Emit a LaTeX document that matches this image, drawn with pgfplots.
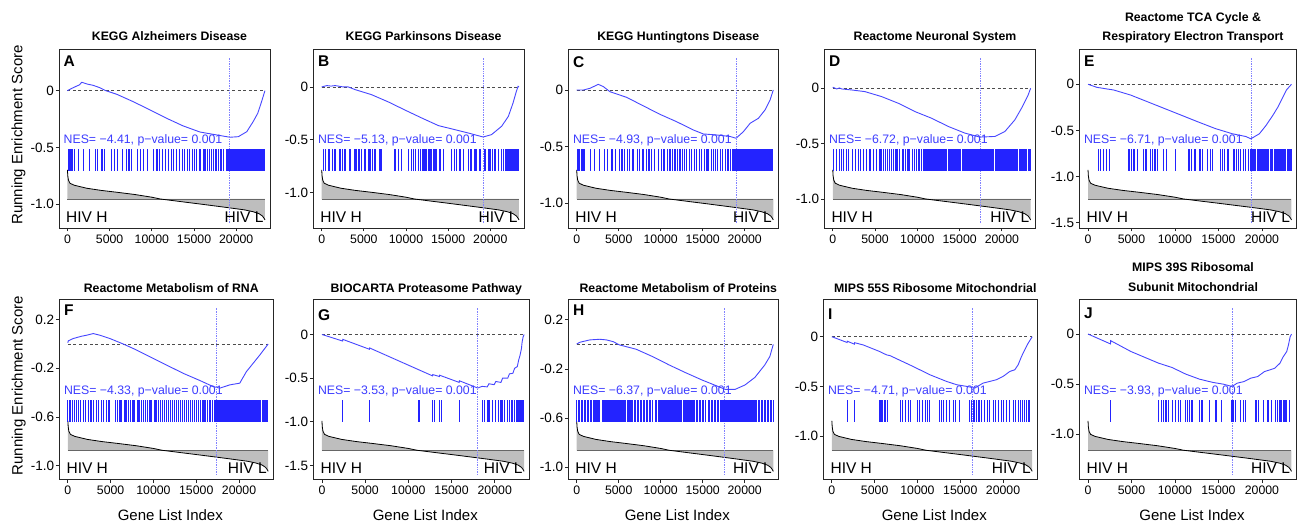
\documentclass[border=0pt]{standalone}
\usepackage{pgfplots}
\pgfplotsset{compat=1.18}
\usepackage{pgfplotstable}
\usepackage{fontspec}
\setmainfont{Liberation Sans}
\definecolor{esblue}{RGB}{70,70,255}
\definecolor{hitblue}{RGB}{35,35,255}
\definecolor{nesblue}{RGB}{60,60,255}
\definecolor{leblue}{RGB}{130,130,255}
\definecolor{mgrey}{RGB}{190,190,190}
\newcommand{\titlefont}{\fontsize{12.3}{14}\selectfont\bfseries}
\newcommand{\nesfont}{\fontsize{12.3}{14}\selectfont}
\newcommand{\hivfont}{\fontsize{15.5}{17}\selectfont}
\newcommand{\letterfont}{\fontsize{15.5}{17}\selectfont\bfseries}
\newcommand{\labfont}{\fontsize{15}{17}\selectfont}
\pgfplotstableread{
x m
0 0.163
40 0.130
120 0.105
300 0.088
800 0.077
1500 0.069
2300 0.060
4000 0.048
5800 0.038
8000 0.025
10000 0.010
11000 0.000
13000 -0.012
15700 -0.028
18000 -0.042
19600 -0.052
21000 -0.061
22000 -0.071
22700 -0.082
23100 -0.095
23300 -0.108
23400 -0.117
}\metric
\pgfplotsset{
 esax/.style={scale only axis, anchor=south west, xmin=-1000, xmax=24000, clip=false,
   axis line style={draw=black!85, line width=0.9pt},
   tick align=outside, xtick pos=bottom, ytick pos=left, major tick length=3.5pt,
   tick style={black!85, line width=0.8pt}, scaled x ticks=false, scaled y ticks=false,
   xtick={0,5000,10000,15000,20000}, xticklabels={0,5000,10000,15000,20000},
   xticklabel style={font=\fontsize{12.3}{14}\selectfont, inner sep=3pt},
   yticklabel style={font=\fontsize{13.5}{15}\selectfont, inner sep=1.5pt}},
 ovax/.style={scale only axis, anchor=south west, xmin=-1000, xmax=24000, ymin=-0.162, ymax=0.838, hide axis, clip=false},
 hits/.style={only marks, mark=|, mark size=11pt, color=hitblue, draw=hitblue, mark options={draw=hitblue, line width=#1}},
 hits/.default=1.2pt,
 esline/.style={esblue, line width=0.9pt, mark=none},
 zline/.style={black!70, line width=0.6pt, dash pattern=on 3pt off 2.5pt, mark=none},
}
\newcommand{\ovcommon}[2]{%
  \addplot[fill=mgrey, draw=none] table {\metric} \closedcycle;
  \addplot[black!60, line width=0.9pt, mark=none] coordinates {(0,0) (23400,0)};
  \addplot[black, line width=0.8pt, mark=none] table {\metric};
  \addplot[leblue, densely dotted, line width=0.7pt, mark=none] coordinates {(#1,-0.135) (#1,0.79)};
  \node[anchor=base west, inner sep=0, text=nesblue, font=\nesfont] at ([xshift=4.5pt]axis cs:-1000,0.308) {NES= −#2, p−value= 0.001};
  \node[anchor=base west, inner sep=0, font=\hivfont] at (axis cs:-170,-0.13) {HIV H};
  \node[anchor=base east, inner sep=0, font=\hivfont] at (axis cs:23250,-0.13) {HIV L};
}
\begin{document}
\begin{tikzpicture}
\useasboundingbox (0,0) rectangle (1298pt,524pt);
%% ================= A
\begin{axis}[esax, at={(59pt,296pt)}, width=211pt, height=179pt, ymin=-1.209, ymax=0.367, ytick={-1,-0.5,0}, yticklabels={-1.0,-0.5,0}]
\addplot[zline] coordinates {(0,0) (23400,0)};
\addplot[esline] coordinates {(0,0) (500,0.02) (800,0.03) (1100,0.041) (1400,0.05) (1700,0.074) (2300,0.059) (3050,0.047) (3850,0.026) (4550,0) (5850,-0.032) (7800,-0.097) (9800,-0.17) (11750,-0.243) (13700,-0.31) (15700,-0.364) (17700,-0.39) (19250,-0.41) (20250,-0.405) (21250,-0.361) (22000,-0.273) (22550,-0.199) (23000,-0.097) (23400,0)};
\node[anchor=base, font=\titlefont] at ([xshift=5pt,yshift=8pt]rel axis cs:0.5,1) {KEGG Alzheimers Disease};
\node[anchor=north west, inner sep=0, font=\letterfont] at ([xshift=4.5pt,yshift=-7pt]rel axis cs:0,1) {A};
\node[rotate=90, font=\labfont] at ([xshift=-40.5pt]rel axis cs:0,0.52) {Running Enrichment Score};
\end{axis}
\begin{axis}[ovax, at={(59pt,296pt)}, width=211pt, height=179pt]
\ovcommon{19200}{4.41}
\addplot[hits] coordinates {(100,.217)(300,.217)(550,.217)(800,.217)(1300,.217)(1900,.217)(2600,.217)(3300,.217)(3600,.217)(4100,.217)(4400,.217)(5200,.217)(5600,.217)(5900,.217)(6500,.217)(7000,.217)(7300,.217)(7600,.217)(8300,.217)(8700,.217)(9000,.217)(9500,.217)(10200,.217)(10600,.217)(10900,.217)(11300,.217)(11600,.217)(12000,.217)(12300,.217)(12600,.217)(12900,.217)(13300,.217)(13600,.217)(13900,.217)(14200,.217)(14500,.217)(14800,.217)(15100,.217)(15300,.217)(15600,.217)(15800,.217)(16100,.217)(16300,.217)(16600,.217)(16800,.217)(17100,.217)(17300,.217)(17600,.217)(17900,.217)(18200,.217)(18500,.217)(18800,.217)(19000,.217)(19140,.217)(19280,.217)(19420,.217)(19560,.217)(19700,.217)(19840,.217)(19980,.217)(20120,.217)(20260,.217)(20400,.217)(20540,.217)(20680,.217)(20820,.217)(20960,.217)(21100,.217)(21240,.217)(21380,.217)(21520,.217)(21660,.217)(21800,.217)(21940,.217)(22080,.217)(22220,.217)(22360,.217)(22500,.217)(22640,.217)(22780,.217)(22920,.217)(23060,.217)(23200,.217)(23340,.217)};
\end{axis}
%% ================= B
\begin{axis}[esax, at={(313.3pt,296pt)}, width=210.7pt, height=179pt, ymin=-1.338, ymax=0.36, ytick={-1,-0.5,0}, yticklabels={-1.0,-0.5,0}]
\addplot[zline] coordinates {(0,0) (23400,0)};
\addplot[esline] coordinates {(0,0) (600,0.013) (1100,0.008) (1600,0.013) (2550,0) (3150,0) (3950,-0.025) (5900,-0.073) (7900,-0.142) (9900,-0.22) (11850,-0.294) (13850,-0.367) (15800,-0.405) (17400,-0.437) (19150,-0.475) (20150,-0.452) (21350,-0.373) (22150,-0.278) (22700,-0.152) (23100,-0.04) (23300,0.006) (23400,0)};
\node[anchor=base, font=\titlefont] at ([xshift=5pt,yshift=8pt]rel axis cs:0.5,1) {KEGG Parkinsons Disease};
\node[anchor=north west, inner sep=0, font=\letterfont] at ([xshift=4.5pt,yshift=-7pt]rel axis cs:0,1) {B};
\end{axis}
\begin{axis}[ovax, at={(313.3pt,296pt)}, width=210.7pt, height=179pt]
\ovcommon{19150}{5.13}
\addplot[hits] coordinates {(186,.217)(463,.217)(859,.217)(1254,.217)(1571,.217)(2164,.217)(2441,.217)(2757,.217)(3350,.217)(3944,.217)(4142,.217)(4418,.217)(4735,.217)(5130,.217)(5526,.217)(5724,.217)(6000,.217)(6317,.217)(6910,.217)(7108,.217)(8690,.217)(9085,.217)(9481,.217)(10272,.217)(10667,.217)(10865,.217)(11142,.217)(11458,.217)(11735,.217)(11933,.217)(12091,.217)(12249,.217)(12447,.217)(12645,.217)(12843,.217)(13040,.217)(13238,.217)(13436,.217)(13634,.217)(14029,.217)(14425,.217)(15413,.217)(15730,.217)(16007,.217)(16402,.217)(16798,.217)(17391,.217)(17707,.217)(18182,.217)(18380,.217)(18775,.217)(19368,.217)(19764,.217)(19962,.217)(20239,.217)(20555,.217)(20951,.217)(21346,.217)(21544,.217)(21800,.217)(21940,.217)(22080,.217)(22220,.217)(22360,.217)(22500,.217)(22640,.217)(22780,.217)(22920,.217)(23060,.217)(23200,.217)(23340,.217)};
\end{axis}
%% ================= C
\begin{axis}[esax, at={(568.3pt,296pt)}, width=210pt, height=179pt, ymin=-1.218, ymax=0.362, ytick={-1,-0.5,0}, yticklabels={-1.0,-0.5,0}]
\addplot[zline] coordinates {(0,0) (23400,0)};
\addplot[esline] coordinates {(0,0) (800,0) (1580,0.015) (2570,0.05) (3170,0.03) (3960,-0.015) (5950,-0.065) (7930,-0.14) (9920,-0.215) (11900,-0.28) (13890,-0.353) (15080,-0.388) (16670,-0.397) (18250,-0.41) (18970,-0.426) (19840,-0.368) (20640,-0.294) (21630,-0.25) (22420,-0.176) (23020,-0.088) (23400,0)};
\node[anchor=base, font=\titlefont] at ([xshift=5pt,yshift=8pt]rel axis cs:0.5,1) {KEGG Huntingtons Disease};
\node[anchor=north west, inner sep=0, font=\letterfont] at ([xshift=4.5pt,yshift=-7pt]rel axis cs:0,1) {C};
\end{axis}
\begin{axis}[ovax, at={(568.3pt,296pt)}, width=210pt, height=179pt]
\ovcommon{18970}{4.93}
\addplot[hits] coordinates {(150,.217)(350,.217)(550,.217)(750,.217)(950,.217)(1600,.217)(2100,.217)(2700,.217)(3300,.217)(3700,.217)(4200,.217)(4600,.217)(5100,.217)(5400,.217)(5700,.217)(6000,.217)(6300,.217)(6700,.217)(7200,.217)(7500,.217)(7900,.217)(8300,.217)(8600,.217)(8900,.217)(9300,.217)(9700,.217)(10100,.217)(10400,.217)(10800,.217)(11100,.217)(11400,.217)(11700,.217)(12000,.217)(12300,.217)(12600,.217)(12800,.217)(13100,.217)(13400,.217)(13700,.217)(14000,.217)(14300,.217)(14600,.217)(14900,.217)(15200,.217)(15500,.217)(15700,.217)(16000,.217)(16300,.217)(16500,.217)(16800,.217)(17100,.217)(17400,.217)(17700,.217)(18000,.217)(18300,.217)(18600,.217)(18850,.217)(18990,.217)(19130,.217)(19270,.217)(19410,.217)(19550,.217)(19690,.217)(19830,.217)(19970,.217)(20110,.217)(20250,.217)(20390,.217)(20530,.217)(20670,.217)(20810,.217)(20950,.217)(21090,.217)(21230,.217)(21370,.217)(21510,.217)(21650,.217)(21790,.217)(21930,.217)(22070,.217)(22210,.217)(22350,.217)(22490,.217)(22630,.217)(22770,.217)(22910,.217)(23050,.217)(23190,.217)(23330,.217)};
\end{axis}
%% ================= D
\begin{axis}[esax, at={(824.3pt,296pt)}, width=211.4pt, height=179pt, ymin=-1.259, ymax=0.354, ytick={-1,-0.5,0}, yticklabels={-1.0,-0.5,0}]
\addplot[zline] coordinates {(0,0) (23400,0)};
\addplot[esline] coordinates {(0,0.01) (460,-0.006) (800,0.003) (1050,-0.006) (2230,-0.015) (3800,-0.03) (5780,-0.075) (7750,-0.135) (9720,-0.21) (11690,-0.27) (13660,-0.344) (15630,-0.404) (17400,-0.44) (19170,-0.434) (20350,-0.39) (21540,-0.284) (22320,-0.18) (23110,-0.06) (23400,0)};
\node[anchor=base, font=\titlefont] at ([xshift=5pt,yshift=8pt]rel axis cs:0.5,1) {Reactome Neuronal System};
\node[anchor=north west, inner sep=0, font=\letterfont] at ([xshift=4.5pt,yshift=-7pt]rel axis cs:0,1) {D};
\end{axis}
\begin{axis}[ovax, at={(824.3pt,296pt)}, width=211.4pt, height=179pt]
\ovcommon{17400}{6.72}
\addplot[hits] coordinates {(50,.217)(450,.217)(750,.217)(1000,.217)(1300,.217)(1600,.217)(1900,.217)(2300,.217)(2700,.217)(3000,.217)(3300,.217)(3600,.217)(4000,.217)(4300,.217)(4500,.217)(4800,.217)(5200,.217)(5500,.217)(5700,.217)(6000,.217)(6200,.217)(6500,.217)(6700,.217)(6900,.217)(7200,.217)(7400,.217)(7600,.217)(7900,.217)(8200,.217)(8400,.217)(8600,.217)(8900,.217)(9100,.217)(9400,.217)(9700,.217)(9900,.217)(10200,.217)(10500,.217)(10800,.217)(10940,.217)(11100,.217)(11250,.217)(11380,.217)(11540,.217)(11700,.217)(11850,.217)(11990,.217)(12150,.217)(12300,.217)(12440,.217)(12600,.217)(12750,.217)(12900,.217)(13040,.217)(13200,.217)(13350,.217)(13490,.217)(13650,.217)(13800,.217)(13950,.217)(14090,.217)(14250,.217)(14400,.217)(14540,.217)(14700,.217)(14850,.217)(15000,.217)(15140,.217)(15300,.217)(15450,.217)(15590,.217)(15750,.217)(15900,.217)(16050,.217)(16190,.217)(16350,.217)(16500,.217)(16640,.217)(16800,.217)(16950,.217)(17100,.217)(17240,.217)(17400,.217)(17550,.217)(17690,.217)(17850,.217)(18000,.217)(18150,.217)(18290,.217)(18450,.217)(18600,.217)(18740,.217)(18900,.217)(19050,.217)(19200,.217)(19340,.217)(19500,.217)(19650,.217)(19790,.217)(19950,.217)(20100,.217)(20250,.217)(20390,.217)(20550,.217)(20700,.217)(20840,.217)(21000,.217)(21150,.217)(21300,.217)(21440,.217)(21600,.217)(21750,.217)(21890,.217)(22050,.217)(22200,.217)(22350,.217)(22490,.217)(22650,.217)(22800,.217)(22940,.217)(23100,.217)(23250,.217)(23380,.217)};
\end{axis}
%% ================= E
\begin{axis}[esax, at={(1079.3pt,296pt)}, width=217.4pt, height=179pt, ymin=-1.557, ymax=0.382, ytick={-1.5,-1,-0.5,0}, yticklabels={-1.5,-1.0,-0.5,0}]
\addplot[zline] coordinates {(0,0) (23400,0)};
\addplot[esline] coordinates {(0,0) (1007,-0.033) (2176,-0.051) (2950,-0.062) (4900,-0.117) (6855,-0.19) (8800,-0.263) (10750,-0.336) (12690,-0.409) (14645,-0.48) (16590,-0.536) (18140,-0.566) (18730,-0.591) (19710,-0.536) (20480,-0.445) (21260,-0.336) (21850,-0.245) (22240,-0.172) (22820,-0.062) (23400,0)};
\node[anchor=base, font=\titlefont] at ([xshift=5pt,yshift=27.5pt]rel axis cs:0.5,1) {Reactome TCA Cycle \&};
\node[anchor=base, font=\titlefont] at ([xshift=5pt,yshift=8pt]rel axis cs:0.5,1) {Respiratory Electron Transport};
\node[anchor=north west, inner sep=0, font=\letterfont] at ([xshift=4.5pt,yshift=-7pt]rel axis cs:0,1) {E};
\end{axis}
\begin{axis}[ovax, at={(1079.3pt,296pt)}, width=217.4pt, height=179pt]
\ovcommon{18730}{6.71}
\addplot[hits] coordinates {(1200,.217)(1475,.217)(1790,.217)(2095,.217)(2490,.217)(4710,.217)(4985,.217)(5290,.217)(5685,.217)(6385,.217)(6660,.217)(7160,.217)(7435,.217)(7710,.217)(8025,.217)(8725,.217)(8990,.217)(10050,.217)(11605,.217)(11920,.217)(12305,.217)(12885,.217)(13160,.217)(13780,.217)(14055,.217)(14330,.217)(15225,.217)(15500,.217)(15735,.217)(16010,.217)(16200,.217)(16780,.217)(17055,.217)(17290,.217)(17565,.217)(17840,.217)(18145,.217)(18460,.217)(18700,.217)(18850,.217)(19000,.217)(19150,.217)(19300,.217)(19450,.217)(19600,.217)(19750,.217)(19900,.217)(20050,.217)(20200,.217)(20350,.217)(20500,.217)(20650,.217)(20800,.217)(20950,.217)(21100,.217)(21250,.217)(21400,.217)(21550,.217)(21700,.217)(21850,.217)(22000,.217)(22150,.217)(22300,.217)(22450,.217)(22600,.217)(22750,.217)(22900,.217)(23050,.217)(23200,.217)(23350,.217)};
\end{axis}
%% ================= F
\begin{axis}[esax, at={(59.3pt,44.5pt)}, width=214pt, height=180.5pt, ymin=-1.114, ymax=0.37, ytick={-1,-0.6,-0.2,0.2}, yticklabels={-1.0,-0.6,-0.2,0.2}]
\addplot[zline] coordinates {(0,0) (23400,0)};
\addplot[esline] coordinates {(0,0.01) (50,0.026) (630,0.045) (1600,0.064) (2190,0.072) (2970,0.086) (3750,0.072) (4910,0.045) (6470,0) (7640,-0.037) (9580,-0.105) (11530,-0.173) (13470,-0.241) (15420,-0.30) (16970,-0.35) (17750,-0.363) (18920,-0.336) (20080,-0.322) (20860,-0.227) (21640,-0.159) (22420,-0.091) (23400,0)};
\node[anchor=base, font=\titlefont] at ([xshift=5pt,yshift=6.5pt]rel axis cs:0.5,1) {Reactome Metabolism of RNA};
\node[anchor=north west, inner sep=0, font=\letterfont] at ([xshift=4.5pt,yshift=-6pt]rel axis cs:0,1) {F};
\node[rotate=90, font=\labfont] at ([xshift=-40.5pt]rel axis cs:0,0.52) {Running Enrichment Score};
\node[anchor=base, font=\labfont] at ([xshift=4pt,yshift=-41pt]rel axis cs:0.5,0) {Gene List Index};
\end{axis}
\begin{axis}[ovax, at={(59.3pt,44.5pt)}, width=214pt, height=180.5pt]
\ovcommon{17360}{4.33}
\addplot[hits] coordinates {(0,.217)(250,.217)(500,.217)(750,.217)(1000,.217)(1200,.217)(1500,.217)(1800,.217)(2100,.217)(2400,.217)(2700,.217)(3000,.217)(3300,.217)(3600,.217)(3900,.217)(4200,.217)(4500,.217)(4800,.217)(5600,.217)(5800,.217)(6100,.217)(6300,.217)(6600,.217)(6800,.217)(7100,.217)(7300,.217)(7600,.217)(7800,.217)(8100,.217)(8300,.217)(8600,.217)(8800,.217)(9100,.217)(9300,.217)(9600,.217)(9800,.217)(10100,.217)(10300,.217)(10600,.217)(10800,.217)(11100,.217)(11300,.217)(11500,.217)(11800,.217)(12000,.217)(12200,.217)(12500,.217)(12700,.217)(12900,.217)(13200,.217)(13400,.217)(13600,.217)(13900,.217)(14100,.217)(14300,.217)(14600,.217)(14800,.217)(15000,.217)(15300,.217)(15500,.217)(15700,.217)(15900,.217)(16100,.217)(16300,.217)(16500,.217)(16700,.217)(16900,.217)(17100,.217)(17300,.217)(17450,.217)(17600,.217)(17750,.217)(17900,.217)(18050,.217)(18200,.217)(18350,.217)(18500,.217)(18650,.217)(18800,.217)(18950,.217)(19100,.217)(19250,.217)(19400,.217)(19550,.217)(19700,.217)(19850,.217)(20000,.217)(20150,.217)(20300,.217)(20450,.217)(20600,.217)(20750,.217)(20900,.217)(21050,.217)(21200,.217)(21350,.217)(21500,.217)(21650,.217)(21800,.217)(21950,.217)(22100,.217)(22250,.217)(22400,.217)(22550,.217)(22700,.217)(22850,.217)(23000,.217)(23150,.217)(23300,.217)};
\end{axis}
%% ================= G
\begin{axis}[esax, at={(313.3pt,44.5pt)}, width=216pt, height=180.5pt, ymin=-1.66, ymax=0.406, ytick={-1.5,-1,-0.5,0}, yticklabels={-1.5,-1.0,-0.5,0}]
\addplot[zline] coordinates {(0,0) (23400,0)};
\addplot[esline] coordinates {(0,0) (2390,-0.075) (2410,-0.056) (5490,-0.169) (5510,-0.154) (12800,-0.474) (12820,-0.459) (13590,-0.481) (13610,-0.466) (15890,-0.549) (15910,-0.53) (18030,-0.613) (18540,-0.594) (19130,-0.60) (19330,-0.564) (19930,-0.575) (20120,-0.538) (20715,-0.549) (20910,-0.5) (21505,-0.5) (21700,-0.451) (22100,-0.444) (22300,-0.387) (22610,-0.368) (22770,-0.293) (22930,-0.237) (23090,-0.162) (23170,-0.086) (23280,-0.03) (23400,0)};
\node[anchor=base, font=\titlefont] at ([xshift=5pt,yshift=6.5pt]rel axis cs:0.5,1) {BIOCARTA Proteasome Pathway};
\node[anchor=north west, inner sep=0, font=\letterfont] at ([xshift=4.5pt,yshift=-10.5pt]rel axis cs:0,1) {G};
\node[anchor=base, font=\labfont] at ([xshift=4pt,yshift=-41pt]rel axis cs:0.5,0) {Gene List Index};
\end{axis}
\begin{axis}[ovax, at={(313.3pt,44.5pt)}, width=216pt, height=180.5pt]
\ovcommon{18030}{3.53}
\addplot[hits] coordinates {(2400,.217)(5500,.217)(11230,.217)(12810,.217)(13000,.217)(13600,.217)(13800,.217)(15900,.217)(18540,.217)(18820,.217)(19130,.217)(19330,.217)(19730,.217)(20120,.217)(20400,.217)(20715,.217)(20910,.217)(21110,.217)(21505,.217)(21700,.217)(21900,.217)(22100,.217)(22300,.217)(22490,.217)(22610,.217)(22770,.217)(22930,.217)(23090,.217)(23170,.217)(23280,.217)};
\end{axis}
%% ================= H
\begin{axis}[esax, at={(568.3pt,44.5pt)}, width=210pt, height=180.5pt, ymin=-1.10, ymax=0.37, ytick={-1,-0.6,-0.2,0.2}, yticklabels={-1.0,-0.6,-0.2,0.2}]
\addplot[zline] coordinates {(0,0) (23400,0)};
\addplot[esline] coordinates {(0,0.004) (390,0.018) (1570,0.037) (2740,0.042) (3530,0.037) (4320,0.023) (5100,-0.004) (7070,-0.039) (9030,-0.099) (11000,-0.167) (12960,-0.23) (14930,-0.29) (16890,-0.344) (17680,-0.366) (18860,-0.366) (20040,-0.33) (21220,-0.268) (22390,-0.167) (22990,-0.099) (23400,0)};
\node[anchor=base, font=\titlefont] at ([xshift=5pt,yshift=6.5pt]rel axis cs:0.5,1) {Reactome Metabolism of Proteins};
\node[anchor=north west, inner sep=0, font=\letterfont] at ([xshift=4.5pt,yshift=-6pt]rel axis cs:0,1) {H};
\node[anchor=base, font=\labfont] at ([xshift=4pt,yshift=-41pt]rel axis cs:0.5,0) {Gene List Index};
\end{axis}
\begin{axis}[ovax, at={(568.3pt,44.5pt)}, width=210pt, height=180.5pt]
\ovcommon{17560}{6.37}
\addplot[hits=1.3pt] coordinates {(0,.217)(180,.217)(360,.217)(540,.217)(720,.217)(900,.217)(1080,.217)(1260,.217)(1440,.217)(1620,.217)(1800,.217)(1980,.217)(2160,.217)(2340,.217)(2520,.217)(2700,.217)(3060,.217)(3240,.217)(3420,.217)(3600,.217)(3780,.217)(3960,.217)(4140,.217)(4320,.217)(4500,.217)(4680,.217)(4860,.217)(5040,.217)(5220,.217)(5400,.217)(5580,.217)(5760,.217)(6120,.217)(6300,.217)(6480,.217)(6660,.217)(6840,.217)(7020,.217)(7200,.217)(7380,.217)(7560,.217)(7740,.217)(7920,.217)(8100,.217)(8280,.217)(8460,.217)(8640,.217)(8820,.217)(9000,.217)(9360,.217)(9540,.217)(9720,.217)(9900,.217)(10080,.217)(10260,.217)(10440,.217)(10620,.217)(10800,.217)(10980,.217)(11160,.217)(11340,.217)(11520,.217)(11700,.217)(11880,.217)(12060,.217)(12240,.217)(12420,.217)(12780,.217)(12960,.217)(13140,.217)(13320,.217)(13500,.217)(13680,.217)(13860,.217)(14040,.217)(14220,.217)(14400,.217)(14580,.217)(14760,.217)(14940,.217)(15120,.217)(15300,.217)(15660,.217)(15840,.217)(16020,.217)(16200,.217)(16380,.217)(16560,.217)(16740,.217)(16920,.217)(17100,.217)(17280,.217)(17460,.217)(17640,.217)(17820,.217)(18000,.217)(18180,.217)(18360,.217)(18540,.217)(18720,.217)(18900,.217)(19080,.217)(19260,.217)(19440,.217)(19620,.217)(19800,.217)(19980,.217)(20160,.217)(20340,.217)(20520,.217)(20700,.217)(20880,.217)(21060,.217)(21240,.217)(21420,.217)(21600,.217)(21780,.217)(21960,.217)(22140,.217)(22320,.217)(22500,.217)(22680,.217)(22860,.217)(23040,.217)(23220,.217)(23400,.217)};
\end{axis}
%% ================= I
\begin{axis}[esax, at={(823.3pt,44.5pt)}, width=214pt, height=180.5pt, ymin=-1.438, ymax=0.38, ytick={-1,-0.5,0}, yticklabels={-1.0,-0.5,0}]
\addplot[zline] coordinates {(0,0) (23400,0)};
\addplot[esline] coordinates {(0,0) (1780,-0.058) (1800,-0.045) (2630,-0.075) (2650,-0.06) (3670,-0.083) (5610,-0.15) (6390,-0.183) (6780,-0.19) (9500,-0.3) (11450,-0.383) (13390,-0.45) (14560,-0.483) (15730,-0.5) (16700,-0.517) (17670,-0.467) (18450,-0.45) (19230,-0.433) (20000,-0.4) (20780,-0.35) (21370,-0.333) (21760,-0.283) (22150,-0.2) (22530,-0.133) (22920,-0.067) (23400,0)};
\node[anchor=base, font=\titlefont] at ([xshift=5pt,yshift=6.5pt]rel axis cs:0.5,1) {MIPS 55S Ribosome Mitochondrial};
\node[anchor=north west, inner sep=0, font=\letterfont] at ([xshift=4.5pt,yshift=-10pt]rel axis cs:0,1) {I};
\node[anchor=base, font=\labfont] at ([xshift=4pt,yshift=-41pt]rel axis cs:0.5,0) {Gene List Index};
\end{axis}
\begin{axis}[ovax, at={(823.3pt,44.5pt)}, width=214pt, height=180.5pt]
\ovcommon{16430}{4.71}
\addplot[hits] coordinates {(1800,.217)(2650,.217)(5535,.217)(5730,.217)(5924,.217)(6197,.217)(6469,.217)(8025,.217)(8258,.217)(8569,.217)(8920,.217)(9192,.217)(9970,.217)(10281,.217)(10592,.217)(10903,.217)(11176,.217)(11448,.217)(12537,.217)(12810,.217)(13082,.217)(13393,.217)(13704,.217)(14171,.217)(14482,.217)(14949,.217)(16116,.217)(16311,.217)(16505,.217)(16700,.217)(16894,.217)(17089,.217)(17283,.217)(17478,.217)(17867,.217)(18139,.217)(18450,.217)(18839,.217)(19150,.217)(19423,.217)(19812,.217)(20084,.217)(20395,.217)(20706,.217)(21173,.217)(21484,.217)(21757,.217)(22029,.217)(22262,.217)(22535,.217)(22729,.217)(22924,.217)(23118,.217)};
\end{axis}
%% ================= J
\begin{axis}[esax, at={(1079.3pt,44.5pt)}, width=217.4pt, height=180.5pt, ymin=-1.45, ymax=0.349, ytick={-1,-0.5,0}, yticklabels={-1.0,-0.5,0}]
\addplot[zline] coordinates {(0,0) (23400,0)};
\addplot[esline] coordinates {(0,0) (2590,-0.099) (2600,-0.066) (4950,-0.175) (8100,-0.29) (9670,-0.334) (11250,-0.4) (12820,-0.45) (14390,-0.483) (15570,-0.5) (16560,-0.523) (17150,-0.49) (17940,-0.474) (18720,-0.44) (19510,-0.424) (20300,-0.374) (20890,-0.358) (21480,-0.341) (22070,-0.291) (22460,-0.225) (22850,-0.175) (23050,-0.109) (23250,-0.026) (23400,0)};
\node[anchor=base, font=\titlefont] at ([xshift=5pt,yshift=27pt]rel axis cs:0.5,1) {MIPS 39S Ribosomal};
\node[anchor=base, font=\titlefont] at ([xshift=5pt,yshift=7pt]rel axis cs:0.5,1) {Subunit Mitochondrial};
\node[anchor=north west, inner sep=0, font=\letterfont] at ([xshift=4.5pt,yshift=-9pt]rel axis cs:0,1) {J};
\node[anchor=base, font=\labfont] at ([xshift=4pt,yshift=-41pt]rel axis cs:0.5,0) {Gene List Index};
\end{axis}
\begin{axis}[ovax, at={(1079.3pt,44.5pt)}, width=217.4pt, height=180.5pt]
\ovcommon{16560}{3.93}
\addplot[hits] coordinates {(2600,.217)(8100,.217)(8410,.217)(8690,.217)(8960,.217)(9280,.217)(9670,.217)(10070,.217)(10380,.217)(10660,.217)(11170,.217)(11440,.217)(11640,.217)(11950,.217)(12820,.217)(13020,.217)(13210,.217)(14000,.217)(14710,.217)(15380,.217)(16560,.217)(16750,.217)(16950,.217)(17540,.217)(17860,.217)(18130,.217)(19310,.217)(19590,.217)(20220,.217)(20690,.217)(21080,.217)(21560,.217)(21790,.217)(22070,.217)(22260,.217)(22460,.217)(22660,.217)(22850,.217)(23130,.217)};
\end{axis}
\end{tikzpicture}
\end{document}
